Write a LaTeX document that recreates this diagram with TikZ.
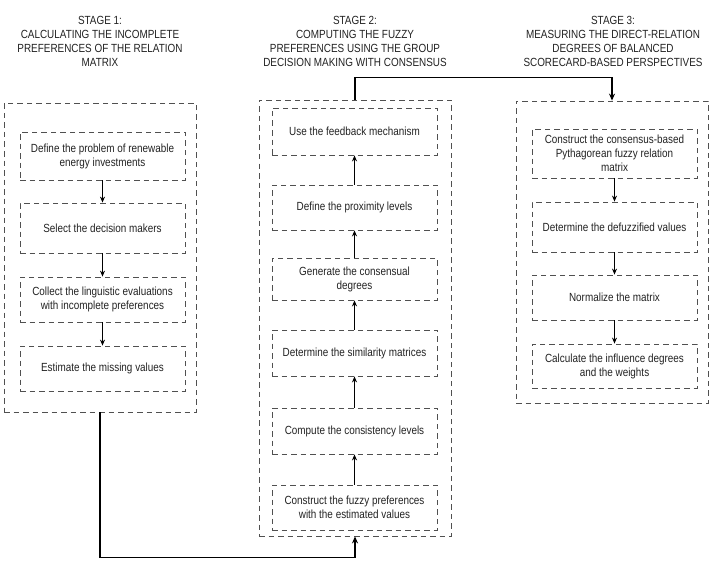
\documentclass[tikz,border=0pt]{standalone}
\usepackage{fontspec}
\setmainfont[FakeStretch=0.84]{Liberation Sans}
\usetikzlibrary{arrows.meta}
\definecolor{txt}{HTML}{222222}
\definecolor{dash}{HTML}{505050}
\tikzset{
  outerbox/.style={draw=dash, line width=0.8pt, dash pattern=on 5.5pt off 4pt, minimum width=192pt, inner sep=0pt},
  stepbox/.style={draw=dash, line width=0.8pt, dash pattern=on 5.5pt off 4pt, minimum width=165pt, align=center, text=txt, font=\fontsize{11.8}{14}\selectfont, inner sep=0pt},
  title/.style={align=center, text=txt, font=\fontsize{11.8}{14}\selectfont, anchor=north, inner sep=0pt},
  flow/.style={-{Stealth[length=6pt,width=5pt]}, line width=1.2pt, black},
  link/.style={line width=1.3pt, black}
}
\begin{document}
\begin{tikzpicture}[x=1pt,y=-1pt]
\useasboundingbox (0,0) rectangle (711,567);
% titles
\node[title] (t1) at (100,16) {STAGE 1:\\CALCULATING THE INCOMPLETE\\PREFERENCES OF THE RELATION\\MATRIX};
\node[title] (t2) at (355,16) {STAGE 2:\\COMPUTING THE FUZZY\\PREFERENCES USING THE GROUP\\DECISION MAKING WITH CONSENSUS};
\node[title] (t3) at (613,16) {STAGE 3:\\MEASURING THE DIRECT-RELATION\\DEGREES OF BALANCED\\SCORECARD-BASED PERSPECTIVES};
% outer boxes
\node[outerbox, minimum height=309pt] (o1) at (100,257.5) {};
\node[outerbox, minimum height=436pt] (o2) at (355,318) {};
\node[outerbox, minimum height=302pt] (o3) at (612,252) {};
% stage 1
\node[stepbox, minimum height=48pt] (a1) at (102.5,156) {Define the problem of renewable\\energy investments};
\node[stepbox, minimum height=50pt] (a2) at (102.5,228) {Select the decision makers};
\node[stepbox, minimum height=45pt] (a3) at (102.5,299.5) {Collect the linguistic evaluations\\with incomplete preferences};
\node[stepbox, minimum height=45pt] (a4) at (102.5,368.5) {Estimate the missing values};
% stage 2
\node[stepbox, minimum height=47pt] (b1) at (354.5,131.5) {Use the feedback mechanism};
\node[stepbox, minimum height=45pt] (b2) at (354.5,207.5) {Define the proximity levels};
\node[stepbox, minimum height=42pt] (b3) at (354.5,279) {Generate the consensual\\degrees};
\node[stepbox, minimum height=46pt] (b4) at (354.5,353) {Determine the similarity matrices};
\node[stepbox, minimum height=46pt] (b5) at (354.5,431) {Compute the consistency levels};
\node[stepbox, minimum height=45pt] (b6) at (354.5,507.5) {Construct the fuzzy preferences\\with the estimated values};
% stage 3
\node[stepbox, minimum height=49pt] (c1) at (614.5,153.5) {Construct the consensus-based\\Pythagorean fuzzy relation\\matrix};
\node[stepbox, minimum height=50pt] (c2) at (614.5,227) {Determine the defuzzified values};
\node[stepbox, minimum height=45pt] (c3) at (614.5,297.5) {Normalize the matrix};
\node[stepbox, minimum height=44pt] (c4) at (614.5,366) {Calculate the influence degrees\\and the weights};
% arrows stage 1
\draw[flow] (a1) -- (a2);
\draw[flow] (a2) -- (a3);
\draw[flow] (a3) -- (a4);
% arrows stage 2 (upward)
\draw[flow] (b6) -- (b5);
\draw[flow] (b5) -- (b4);
\draw[flow] (b4) -- (b3);
\draw[flow] (b3) -- (b2);
\draw[flow] (b2) -- (b1);
% arrows stage 3
\draw[flow] (c1) -- (c2);
\draw[flow] (c2) -- (c3);
\draw[flow] (c3) -- (c4);
% connectors between stages
\draw[link, -{Stealth[length=7pt,width=6pt]}] (o1.south) -- ++(0,145) -| (o2.south);
\draw[link, -{Stealth[length=7pt,width=6pt]}] (o2.north) -- ++(0,-22) -| (o3.north);
\end{tikzpicture}
\end{document}
